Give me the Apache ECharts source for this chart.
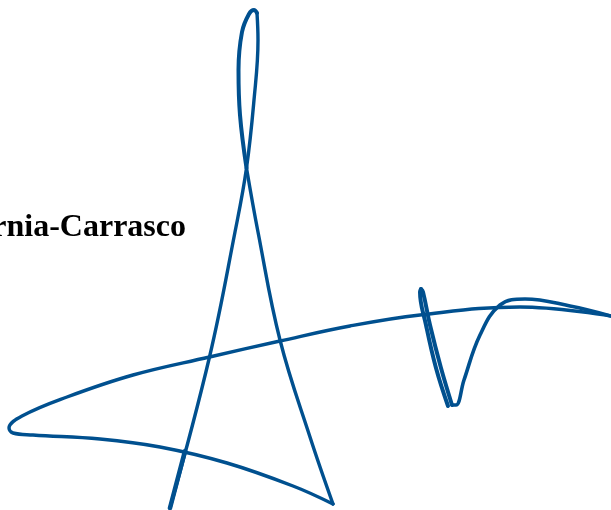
<!DOCTYPE html>
<html><head><meta charset="utf-8">
<style>html,body{margin:0;padding:0;background:#fff}#c{width:611px;height:510px}</style>
<script src="https://cdn.jsdelivr.net/npm/echarts@6/dist/echarts.min.js"></script>
</head><body><div id="c"></div>
<script>
const labelText = "rnia-Carrasco";
const lineColor = "#00508f";
const towerUp = [[170,508],[209.5,357],[235,232],[246.5,168],[254,100],[258,40],[257,13]];
const towerArc = [[257,13],[254,10],[249,14],[242,32],[238.5,70],[240,115],[246.5,168]];
const towerDown = [[246.5,168],[258,232],[280,340],[310,437],[333,504]];
const sweepPath = [[333,504],[293,486],[227,463],[160,447],[100,439],[33,435],[13,433],[9,428],[22,416],[67,397],[133,375],[209.5,357],[280,341],[350,326],[420,315],[520,307],[611,316]];
const returnTop = [[611,316],[570,306],[525,299],[500,305],[480,335],[464,380],[456,405],[452,405]];
const returnLegA = [[452,405],[441,368],[430,325],[423,292],[421,289]];
const returnLegB = [[421,289],[420,292],[426,325],[436,368],[448,406]];
const baseStart = [[170,508],[185,451]];
const paths = [towerUp, towerArc, towerDown, sweepPath, returnTop, returnLegA, returnLegB, baseStart];
const widths = [3.4, 4, 3.4, 3.4, 3.6, 4, 4, 4.6];
const chart = echarts.init(document.getElementById('c'), null, {renderer:'canvas'});
chart.setOption({
  animation:false,
  title:{text:labelText,right:425,top:212,textStyle:{fontFamily:'"Liberation Serif"',fontWeight:'bold',fontSize:32,color:'#000'},padding:0},
  grid:{left:0,right:0,top:0,bottom:0},
  xAxis:{type:'value',min:0,max:611,show:false},
  yAxis:{type:'value',min:0,max:510,inverse:true,show:false},
  series:paths.map((p,i)=>({type:'line',data:p,smooth:0.4,symbol:'none',clip:false,
    lineStyle:{color:lineColor,width:widths[i],cap:'round',join:'round'}}))
});
</script></body></html>
